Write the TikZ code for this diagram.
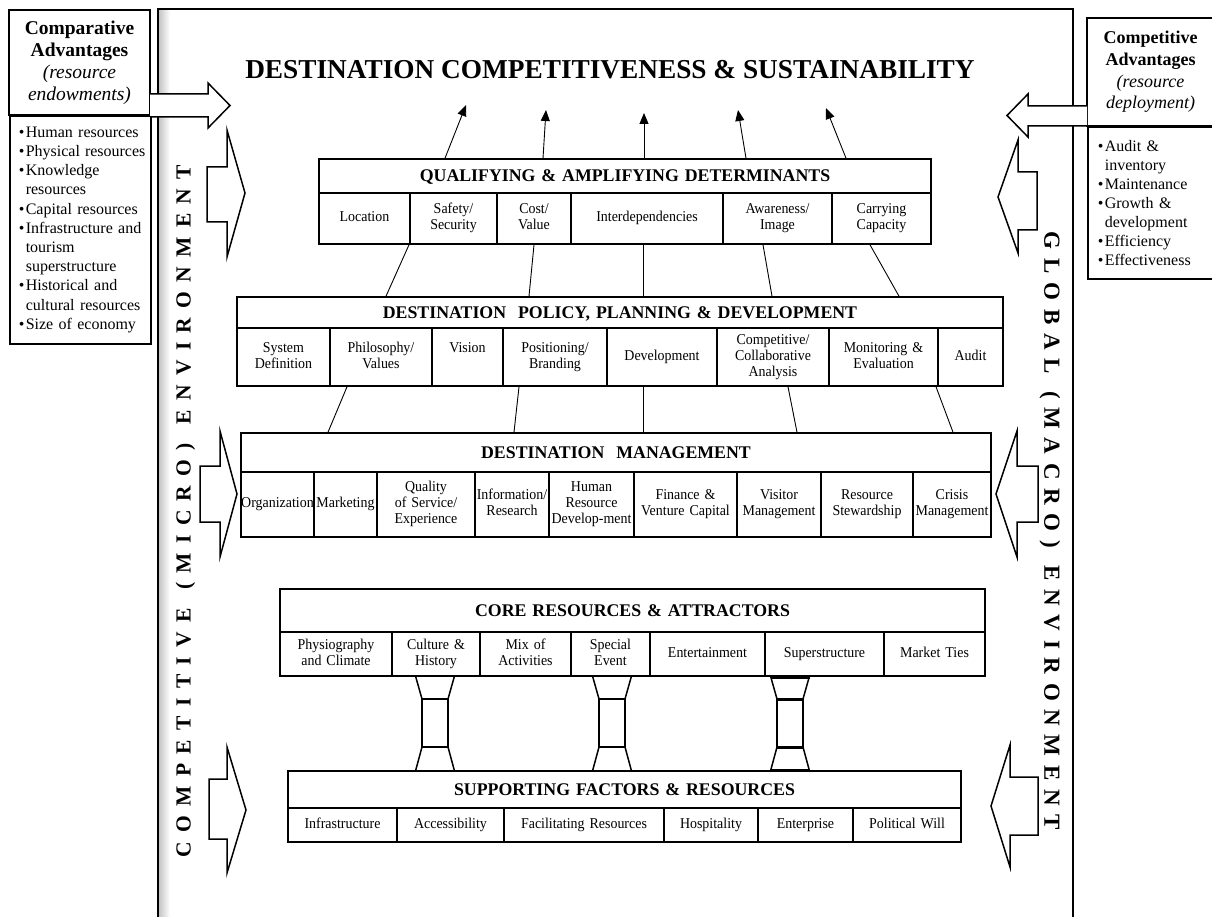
\documentclass[tikz,border=0pt]{standalone}
\usepackage{fontspec}
\setmainfont{Liberation Serif}
\newfontfamily\cellfont{Liberation Serif}[FakeStretch=0.93]
\usetikzlibrary{arrows.meta}
\hyphenpenalty=10000
\exhyphenpenalty=10000
\newcommand\cellbox[7][]{%
  \pgfmathsetmacro\cbw{#4-#3}\pgfmathsetmacro\cbh{#6-#5}%
  \pgfmathsetmacro\cbx{(#3+#4)/2}\pgfmathsetmacro\cby{(#5+#6)/2}%
  \node[cellbx,#1,text width=\cbw pt,minimum height=\cbh pt] (#2) at (\cbx,\cby) {\strut#7\strut};}
\newcommand\titlebox[6]{%
  \pgfmathsetmacro\cbw{#3-#2}\pgfmathsetmacro\cbh{#5-#4}%
  \pgfmathsetmacro\cbx{(#2+#3)/2}\pgfmathsetmacro\cby{(#4+#5)/2}%
  \node[cellbx,titlecell,text width=\cbw pt,minimum height=\cbh pt] (#1) at (\cbx,\cby) {\raisebox{0pt}[\height][0pt]{#6}};}
\newcommand\bul[1]{\mbox{\makebox[7pt][l]{•}#1}}
\newcommand\ind[1]{\mbox{\hspace*{7pt}#1}}
\tikzset{
  boxline/.style={draw, line width=1.6pt},
  cellbx/.style={draw, line width=1.6pt, inner xsep=0pt, inner ysep=0pt, align=center,
    font=\cellfont\fontsize{15}{16.2}\selectfont},
  titlecell/.style={font=\normalfont\bfseries\fontsize{17.8}{20}\selectfont},
  link/.style={line width=0.9pt},
  uparrow/.style={line width=0.9pt, -{Triangle[length=11pt,width=9pt]}},
  blockarrow/.style={draw, fill=white, line width=1.5pt, line join=miter},
  hg/.style={line width=1.5pt, line join=miter},
  sidetext/.style={font=\bfseries\fontsize{21.5}{21.5}\selectfont, inner sep=0pt},
}
\begin{document}
\begin{tikzpicture}[x=1pt,y=-1pt]
\path[use as bounding box] (0,0) rectangle (1212,917);
\clip (0,0) rectangle (1212,917);
\fill[white] (0,0) rectangle (1212,917);

% outer frame with inner shadow on the left
\shade[left color=gray!45, right color=white] (159,10) rectangle (170,917);
\draw[line width=1.6pt] (158,930) -- (158,9) -- (1073,9) -- (1073,930);

% main title
\node[font=\bfseries\fontsize{27.3}{30}\selectfont, inner sep=0pt] (dcs) at (610,70)
  {DESTINATION COMPETITIVENESS \& SUSTAINABILITY};

% left side box
\node[boxline, minimum width=141pt, minimum height=105pt, align=center, inner sep=0pt,
  font=\fontsize{19.5}{22}\selectfont] (cat) at (79.5,62.5)
  {\textbf{Comparative}\\\textbf{Advantages}\\\textit{(resource}\\\textit{endowments)}};
\node[boxline, anchor=north west, text width=123pt, inner xsep=9pt, inner ysep=0pt,
  minimum height=228pt, align=left, font=\fontsize{16}{19.2}\selectfont] (cal) at (9,115)
  {\bul{Human resources}\\\bul{Physical\hspace{5pt}resources}\\\bul{Knowledge}\\\ind{resources}\\
   \bul{Capital resources}\\\bul{Infrastructure and}\\\ind{tourism}\\\ind{superstructure}\\
   \bul{Historical and}\\\ind{cultural resources}\\\bul{Size of economy}};

% right side box
\node[boxline, minimum width=127pt, minimum height=108pt, align=center, inner sep=0pt,
  font=\fontsize{18}{21.7}\selectfont] (cpa) at (1150.5,72)
  {\textbf{Competitive}\\\textbf{Advantages}\\\textit{(resource}\\\textit{deployment)}};
\node[boxline, anchor=north west, text width=107pt, inner xsep=10pt, inner ysep=0pt,
  minimum height=152pt, align=left, font=\fontsize{16}{19}\selectfont] (cpl) at (1087,126)
  {\bul{Audit \&}\\\ind{inventory}\\\bul{Maintenance}\\\bul{Growth \&}\\\ind{development}\\
   \bul{Efficiency}\\\bul{Effectiveness}};

% top horizontal block arrows
\draw[blockarrow] (150,94) -- (208,94) -- (208,83) -- (230,105.5) -- (208,128) -- (208,117) -- (150,117);
\draw[blockarrow] (1087,106) -- (1028,106) -- (1028,94) -- (1007,115.5) -- (1028,137) -- (1028,126) -- (1087,126);

% side block arrows
\draw[blockarrow] (207,167) -- (227,167) -- (227,130) -- (245,193) -- (227,257) -- (227,222) -- (207,222) -- cycle;
\draw[blockarrow] (200,466) -- (220,466) -- (220,431) -- (237,494) -- (220,557) -- (220,522) -- (200,522) -- cycle;
\draw[blockarrow] (209,779) -- (227,779) -- (227,747) -- (246,810) -- (227,873) -- (227,839) -- (209,839) -- cycle;
\draw[blockarrow] (1037,172) -- (1018,172) -- (1018,140) -- (998,197) -- (1018,253) -- (1018,230) -- (1037,230) -- cycle;
\draw[blockarrow] (1038,466) -- (1017,466) -- (1017,431) -- (996,494) -- (1017,557) -- (1017,522) -- (1038,522) -- cycle;
\draw[blockarrow] (1038,777) -- (1010,777) -- (1010,745) -- (991,806) -- (1010,867) -- (1010,835) -- (1038,835) -- cycle;

% vertical environment texts
\node[sidetext, rotate=90] (micro) at (185.5,511) {\makebox[692pt][s]{C\hfill O\hfill M\hfill P\hfill E\hfill T\hfill I\hfill T\hfill I\hfill V\hfill E\hfill\hfill (\hfill M\hfill I\hfill C\hfill R\hfill O\hfill )\hfill\hfill E\hfill N\hfill V\hfill I\hfill R\hfill O\hfill N\hfill M\hfill E\hfill N\hfill T}};
\node[sidetext, font=\bfseries\fontsize{23}{23}\selectfont, rotate=-90] (macro) at (1050,531) {\makebox[598pt][s]{G\hfill L\hfill O\hfill B\hfill A\hfill L\hfill\hfill (\hfill M\hfill A\hfill C\hfill R\hfill O\hfill )\hfill\hfill E\hfill N\hfill V\hfill I\hfill R\hfill O\hfill N\hfill M\hfill E\hfill N\hfill T}};

% Qualifying & amplifying determinants
\titlebox{qt}{319}{931}{159}{193}{QUALIFYING \& AMPLIFYING DETERMINANTS}
\cellbox{q1}{319}{410}{193}{244}{Location}
\cellbox{q2}{410}{497}{193}{244}{Safety/\\Security}
\cellbox{q3}{497}{571}{193}{244}{Cost/\\Value}
\cellbox{q4}{571}{723}{193}{244}{Interdependencies}
\cellbox{q5}{723}{832}{193}{244}{Awareness/\\Image}
\cellbox{q6}{832}{931}{193}{244}{Carrying\\Capacity}

% Policy, planning & development
\titlebox{pt}{237}{1003}{297}{328}{DESTINATION\hspace{6pt} POLICY, PLANNING \& DEVELOPMENT}
\cellbox{p1}{237}{330}{328}{386}{System\\Definition}
\cellbox{p2}{330}{432}{328}{386}{Philosophy/\\Values}
\cellbox{p3}{432}{503}{328}{386}{Vision\\\mbox{}}
\cellbox{p4}{503}{607}{328}{386}{Positioning/\\Branding}
\cellbox{p5}{607}{717}{328}{386}{Development}
\cellbox{p6}{717}{829}{328}{386}{Competitive/\\Collaborative\\Analysis}
\cellbox{p7}{829}{938}{328}{386}{Monitoring \&\\Evaluation}
\cellbox{p8}{938}{1003}{328}{386}{Audit}

% Destination management
\titlebox{mt}{241}{991}{433}{472}{DESTINATION\hspace{6pt} MANAGEMENT}
\cellbox{m1}{241}{314}{472}{537}{Organization}
\cellbox{m2}{314}{377}{472}{537}{Marketing}
\cellbox{m3}{377}{475}{472}{537}{Quality\\of Service/\\Experience}
\cellbox{m4}{475}{549}{472}{537}{Information/\\Research}
\cellbox{m5}{549}{634}{472}{537}{Human\\Resource\\Develop-ment}
\cellbox{m6}{634}{737}{472}{537}{Finance \&\\Venture Capital}
\cellbox{m7}{737}{821}{472}{537}{Visitor\\Management}
\cellbox{m8}{821}{913}{472}{537}{Resource\\Stewardship}
\cellbox{m9}{913}{991}{472}{537}{Crisis\\Management}

% Core resources & attractors
\titlebox{ct}{280}{985}{589}{632}{CORE RESOURCES \& ATTRACTORS}
\cellbox{c1}{280}{392}{632}{676}{Physiography\\and Climate}
\cellbox{c2}{392}{480}{632}{676}{Culture \&\\History}
\cellbox{c3}{480}{571}{632}{676}{Mix of\\Activities}
\cellbox{c4}{571}{650}{632}{676}{Special\\Event}
\cellbox{c5}{650}{765}{632}{676}{Entertainment}
\cellbox{c6}{765}{884}{632}{676}{Superstructure}
\cellbox{c7}{884}{985}{632}{676}{Market Ties}

% Supporting factors & resources
\titlebox{st}{288}{961}{771}{808}{SUPPORTING FACTORS \& RESOURCES}
\cellbox{s1}{288}{397}{808}{842}{Infrastructure}
\cellbox{s2}{397}{504}{808}{842}{Accessibility}
\cellbox{s3}{504}{664}{808}{842}{Facilitating Resources}
\cellbox{s4}{664}{758}{808}{842}{Hospitality}
\cellbox{s5}{758}{853}{808}{842}{Enterprise}
\cellbox{s6}{853}{961}{808}{842}{Political Will}

% hourglass pillars between core and supporting
\foreach \cx in {435,612,790}{
  \draw[hg] ({\cx-19.5},676) -- ({\cx-13},699) -- ({\cx+13},699) -- ({\cx+19.5},676);
  \draw[hg] ({\cx-13},699) rectangle ({\cx+13},747);
  \draw[hg] ({\cx-13},747) -- ({\cx-19.5},771) -- ({\cx+19.5},771) -- ({\cx+13},747);
}
\draw[line width=3pt] (777,699) -- (803,699) (777,747) -- (803,747)
  (770.5,677) -- (809.5,677) (770.5,770) -- (809.5,770);

% arrows to the title
\coordinate (u1) at (466,105);
\coordinate (u2) at (546,110);
\coordinate (u3) at (644,113);
\coordinate (u4) at (738,110);
\coordinate (u5) at (826,108);
\draw[uparrow] (qt.north -| 445,0) -- (u1);
\draw[uparrow] (qt.north -| 543,0) -- (u2);
\draw[uparrow] (qt.north -| 644,0) -- (u3);
\draw[uparrow] (qt.north -| 746,0) -- (u4);
\draw[uparrow] (qt.north -| 846,0) -- (u5);

% links qualifying -> policy
\draw[link] (q1.south -| 409,0) -- (pt.north -| 386,0);
\draw[link] (q3.south -| 534,0) -- (pt.north -| 529,0);
\draw[link] (q4.south -| 643,0) -- (pt.north -| 643,0);
\draw[link] (q5.south -| 763,0) -- (pt.north -| 772,0);
\draw[link] (q6.south -| 870,0) -- (pt.north -| 899,0);

% links policy -> management
\draw[link] (p2.south -| 347,0) -- (mt.north -| 328,0);
\draw[link] (p4.south -| 519,0) -- (mt.north -| 514,0);
\draw[link] (p5.south -| 643,0) -- (mt.north -| 643,0);
\draw[link] (p6.south -| 788,0) -- (mt.north -| 797,0);
\draw[link] (p7.south -| 936,0) -- (mt.north -| 953,0);
\end{tikzpicture}
\end{document}
